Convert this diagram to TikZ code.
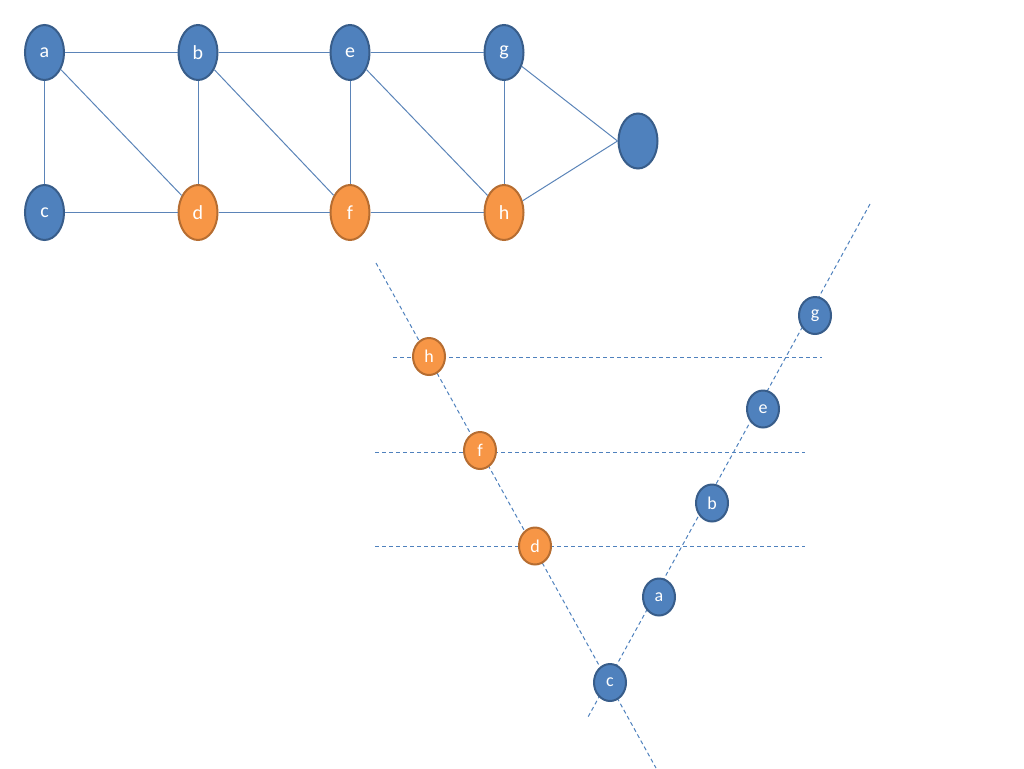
\documentclass[tikz,border=0pt]{standalone}
\usepackage{fontspec}
\setmainfont{Carlito}
\usetikzlibrary{shapes.geometric}
\definecolor{nblue}{HTML}{4F81BD}
\definecolor{nblueb}{HTML}{385D8A}
\definecolor{norange}{HTML}{F79646}
\definecolor{norangeb}{HTML}{B66D31}
\definecolor{edgec}{HTML}{5B84B8}
\tikzset{
  bignode/.style={ellipse, inner sep=0pt, minimum width=29.25pt, minimum height=41.25pt, line width=1.5pt, text=white, font=\fontsize{15}{17}\selectfont},
  smallnode/.style={ellipse, inner sep=0pt, minimum width=24pt, minimum height=27.75pt, line width=1.5pt, text=white, font=\fontsize{13.5}{15}\selectfont},
  bluen/.style={fill=nblue, draw=nblueb},
  orangen/.style={fill=norange, draw=norangeb},
  gedge/.style={draw=edgec, line width=0.75pt},
  dline/.style={draw=nblue, line width=0.75pt, dash pattern=on 3pt off 2.25pt}
}
\begin{document}
\begin{tikzpicture}[x=0.75pt, y=-0.75pt]
\useasboundingbox (0,0) rectangle (1024,768);
% top graph
\node[bignode,bluen] (a) at (44.5,52.5) {a};
\node[bignode,bluen] (b) at (198,52.5) {b};
\node[bignode,bluen] (e) at (350,52.5) {e};
\node[bignode,bluen] (g) at (504,52.5) {g};
\node[bignode,bluen] (x) at (638,141) {};
\node[bignode,bluen] (c) at (44.5,212.5) {c};
\node[bignode,orangen] (d) at (198,212.5) {d};
\node[bignode,orangen] (f) at (350,212.5) {f};
\node[bignode,orangen] (h) at (504,212.5) {h};
\draw[gedge] (a) -- (b);
\draw[gedge] (b) -- (e);
\draw[gedge] (e) -- (g);
\draw[gedge] (a) -- (c);
\draw[gedge] (a) -- (d);
\draw[gedge] (b) -- (d);
\draw[gedge] (b) -- (f);
\draw[gedge] (e) -- (f);
\draw[gedge] (e) -- (h);
\draw[gedge] (g) -- (h);
\draw[gedge] (g) -- (x.west);
\draw[gedge] (h) -- (x.west);
\draw[gedge] (c) -- (d);
\draw[gedge] (d) -- (f);
\draw[gedge] (f) -- (h);
% bottom dashed lines
\coordinate (l1s) at (376,263);
\coordinate (l1e) at (656,768);
\coordinate (l2s) at (870,204);
\coordinate (l2e) at (588,717);
\coordinate (h1s) at (393,357.5);
\coordinate (h1e) at (822,357.5);
\coordinate (h2s) at (375,452);
\coordinate (h2e) at (805,452);
\coordinate (h3s) at (375,546);
\coordinate (h3e) at (805,546);
\draw[dline] (l1s) -- (l1e);
\draw[dline] (l2s) -- (l2e);
\draw[dline] (h1s) -- (h1e);
\draw[dline] (h2s) -- (h2e);
\draw[dline] (h3s) -- (h3e);
% bottom nodes
\node[smallnode,orangen] (bh) at (429,356.5) {h};
\node[smallnode,orangen] (bf) at (480,450.5) {f};
\node[smallnode,orangen] (bd) at (535,546) {d};
\node[smallnode,bluen] (bc) at (610,682.5) {c};
\node[smallnode,bluen] (ba) at (659,597) {a};
\node[smallnode,bluen] (bb) at (712,503) {b};
\node[smallnode,bluen] (be) at (763,409) {e};
\node[smallnode,bluen] (bg) at (815,315.5) {g};
\end{tikzpicture}
\end{document}
